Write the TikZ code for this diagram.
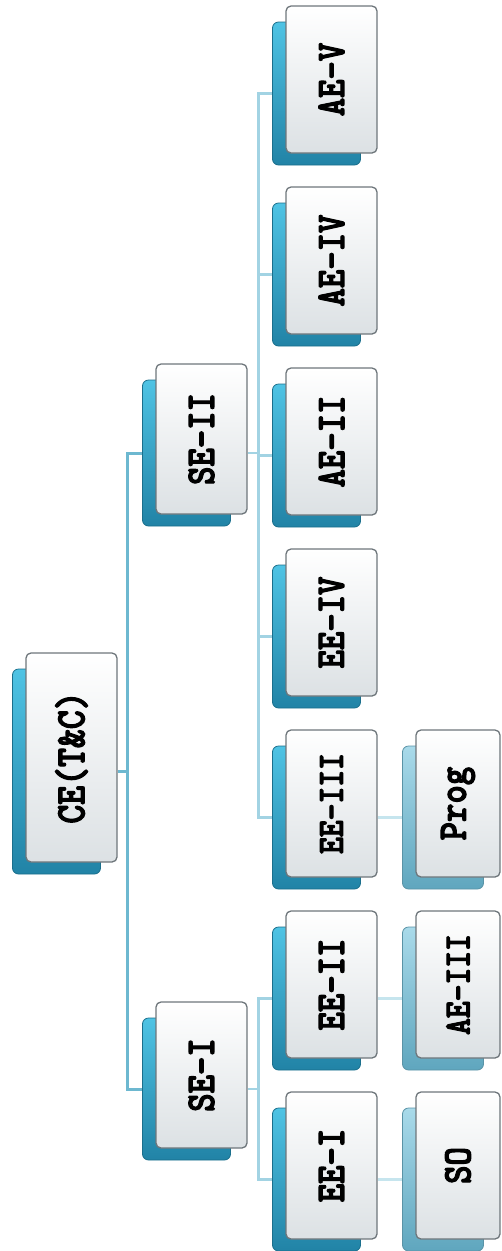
\documentclass[tikz,border=0pt]{standalone}
\usepackage{fontspec}
\newfontfamily\boxfont{lmmonolt10-bold.otf}[FakeBold=3]
\usetikzlibrary{backgrounds}
\definecolor{framegray}{HTML}{6E767B}
\definecolor{boxgray}{HTML}{DCE1E4}
\definecolor{cyanA}{HTML}{4FC3E4}
\definecolor{cyanB}{HTML}{2183A6}
\definecolor{cyanEdge}{HTML}{1B6F8C}
\definecolor{paleA}{HTML}{A9DAEA}
\definecolor{paleB}{HTML}{5FA6BE}
\definecolor{paleEdge}{HTML}{5A93A6}
\definecolor{lineA}{HTML}{6DB8D0}
\definecolor{lineB}{HTML}{A2D3E3}
\definecolor{lineC}{HTML}{C6E5EE}
\tikzset{
  front/.style={draw=framegray, line width=1.3pt, rounded corners=5pt,
    top color=white, bottom color=boxgray, inner sep=0pt,
    font=\boxfont\fontsize{35}{35}\selectfont},
  backbox/.style={draw=cyanEdge, line width=0.8pt, rounded corners=6pt,
    top color=cyanA, bottom color=cyanB, inner sep=0pt},
  palebox/.style={backbox, draw=paleEdge, top color=paleA, bottom color=paleB},
  linkA/.style={draw=lineA, line width=3pt},
  linkB/.style={draw=lineB, line width=2.6pt},
  linkC/.style={draw=lineC, line width=3pt},
}
% name, cx, cy, w, h, text, back style
\newcommand\orgbox[7]{%
  \pgfmathsetmacro\bw{#4-3}%
  \pgfmathsetmacro\bh{#5-4}%
  \node[#7, minimum width=\bw pt, minimum height=\bh pt] (b-#1) at ({#2-15},{#3+14}) {};
  \node[front, rotate=90, minimum width=#5pt, minimum height=#4pt] (#1) at (#2,#3)
     {\scalebox{1}[1.16]{#6}};%
}
\newcommand\smallfs{\fontsize{32}{32}\selectfont}
\begin{document}
\begin{tikzpicture}[x=1pt,y=-1pt]
\useasboundingbox (0,0) rectangle (502,1251);
% level 0
\orgbox{root}{71.5}{757.5}{91}{209}{\fontsize{36}{36}\selectfont CE(T\&C)}{backbox}
% level 1
\orgbox{se2}{201.5}{439}{91}{150}{SE-II}{backbox}
\orgbox{se1}{201.5}{1075}{91}{146}{SE-I}{backbox}
% level 2
\orgbox{ae5}{331.5}{79.5}{91}{147}{AE-V}{backbox}
\orgbox{ae4}{331.5}{260.5}{91}{147}{AE-IV}{backbox}
\orgbox{ae2}{331.5}{441.5}{91}{147}{AE-II}{backbox}
\orgbox{ee4}{331.5}{622.5}{91}{147}{EE-IV}{backbox}
\orgbox{ee3}{331.5}{803.5}{91}{147}{\smallfs EE-III}{backbox}
\orgbox{ee2}{331.5}{984.5}{91}{147}{EE-II}{backbox}
\orgbox{ee1}{331.5}{1165.5}{91}{147}{EE-I}{backbox}
% level 3
\orgbox{prog}{458}{803.5}{84}{147}{Prog}{palebox}
\orgbox{ae3}{458}{984.5}{84}{147}{\smallfs AE-III}{palebox}
\orgbox{so}{458}{1165.5}{84}{147}{SO}{palebox}
% connectors
\begin{scope}[on background layer]
\draw[linkA] (root.south |- b-root.center) -- ++(10,0) coordinate (rb);
\draw[linkA] (b-se2.west) -| (rb) |- (b-se1.west);
\draw[linkB] (se2.south |- b-se2.center) -- ++(11,0) coordinate (s2b);
\draw[linkB] (b-ae5.west) -| (s2b) |- (b-ee3.west);
\draw[linkB] (s2b |- b-ae4.center) -- (b-ae4.west);
\draw[linkB] (s2b |- b-ae2.center) -- (b-ae2.west);
\draw[linkB] (s2b |- b-ee4.center) -- (b-ee4.west);
\draw[linkB] (se1.south |- b-se1.center) -- ++(11,0) coordinate (s1b);
\draw[linkB] (b-ee2.west) -| (s1b) |- (b-ee1.west);
\draw[linkC] (ee3.south |- b-ee3.center) -- (b-prog.west);
\draw[linkC] (ee2.south |- b-ee2.center) -- (b-ae3.west);
\draw[linkC] (ee1.south |- b-ee1.center) -- (b-so.west);
\end{scope}
\end{tikzpicture}
\end{document}
